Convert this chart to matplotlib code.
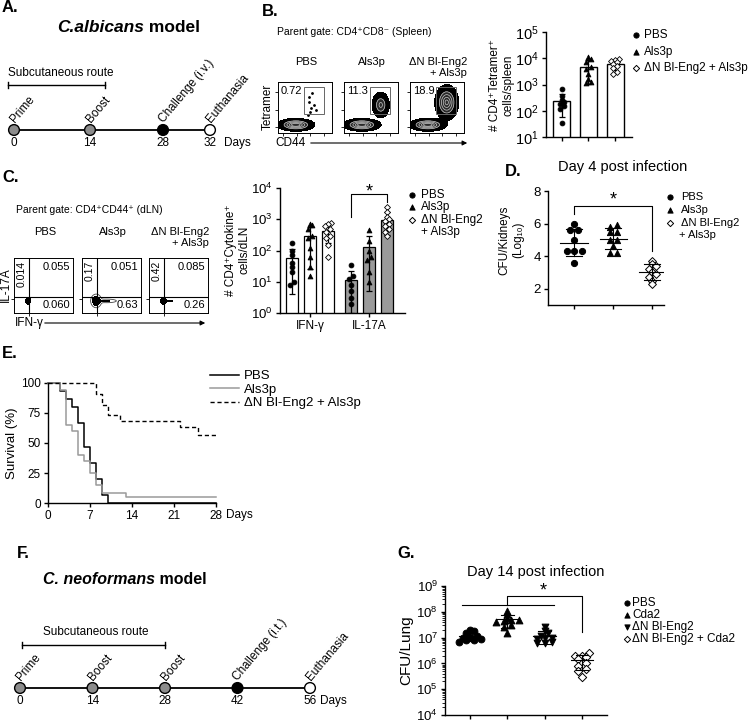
import numpy as np
import matplotlib.pyplot as plt
from matplotlib.patches import Rectangle
from matplotlib.ticker import LogLocator, NullFormatter

plt.rcParams['font.family'] = ['Liberation Sans', 'DejaVu Sans']
plt.rcParams['axes.linewidth'] = 1.0
plt.rcParams['axes.facecolor'] = 'none'
plt.rcParams['xtick.major.width'] = 1.0
plt.rcParams['ytick.major.width'] = 1.0

# ---------------- data ----------------
a_days = [0, 14, 28, 32]
a_events = ["Prime", "Boost", "Challenge (i.v.)", "Euthanasia"]
a_colors = ["#8c8c8c", "#8c8c8c", "k", "w"]
f_days = [0, 14, 28, 42, 56]
f_events = ["Prime", "Boost", "Boost", "Challenge (i.t.)", "Euthanasia"]
f_colors = ["#8c8c8c", "#8c8c8c", "#8c8c8c", "k", "w"]

b_flow_titles = ["PBS", "Als3p", "ΔN Bl-Eng2\n+ Als3p"]
b_flow_pct = ["0.72", "11.3", "18.9"]
b_flow_gated = [0.0, 0.55, 0.9]
b_pbs_gate_x = [0.55, 0.6, 0.62, 0.58, 0.66, 0.57, 0.7, 0.63]
b_pbs_gate_y = [0.35, 0.42, 0.5, 0.6, 0.55, 0.7, 0.45, 0.78]

b_groups = ["PBS", "Als3p", "ΔN Bl-Eng2 + Als3p"]
b_pbs = [650, 350, 260, 220, 180, 150, 120, 35]
b_als3p = [11000, 9000, 7000, 4500, 3800, 2500, 1600, 1300, 1100]
b_dn = [9500, 8500, 8000, 7000, 6000, 5000, 4200, 3000, 2600]

c_flow_titles = ["PBS", "Als3p", "ΔN Bl-Eng2\n+ Als3p"]
c_flow_ul = ["0.014", "0.17", "0.42"]
c_flow_ur = ["0.055", "0.051", "0.085"]
c_flow_lr = ["0.060", "0.63", "0.26"]

c_cyto = ["IFN-γ", "IL-17A"]
c_ifn = [[170, 100, 70, 40, 30, 20, 10, 8],
         [700, 650, 500, 300, 250, 120, 60, 30, 15],
         [750, 700, 600, 500, 400, 300, 250, 150, 60]]
c_il17 = [[35, 15, 12, 8, 5, 3, 2],
          [450, 200, 100, 60, 50, 20, 10],
          [2500, 1700, 1200, 1000, 900, 700, 600, 500, 400, 300]]

d_pbs = [6.0, 5.6, 5.6, 5.0, 4.3, 4.3, 4.3, 3.6]
d_als = [5.9, 5.8, 5.5, 5.5, 5.0, 5.0, 4.6, 4.2, 4.2]
d_dn = [3.7, 3.5, 3.4, 3.2, 3.0, 2.9, 2.7, 2.5, 2.3]

e_labels = ["PBS", "Als3p", "ΔN Bl-Eng2 + Als3p"]
e_pbs_days = [0, 2, 3, 4, 5, 6, 7, 8, 9, 10]
e_pbs_surv = [100, 93, 87, 80, 67, 47, 33, 20, 7, 0]
e_als_days = [0, 2, 3, 4, 5, 6, 7, 8, 9, 13]
e_als_surv = [100, 94, 65, 60, 40, 35, 25, 15, 8, 5]
e_dn_days = [0, 8, 9, 10, 12, 22, 25]
e_dn_surv = [100, 91, 82, 73, 68, 63, 57]

g_groups = ["PBS", "Cda2", "ΔN Bl-Eng2", "ΔN Bl-Eng2 + Cda2"]
g_pbs = [2.0e7, 1.8e7, 1.5e7, 1.2e7, 1.1e7, 1.0e7, 9e6, 8e6, 8e6, 7e6]
g_cda2 = [1.1e8, 8e7, 6e7, 5e7, 5e7, 4.5e7, 4e7, 3e7, 2.5e7, 1.5e7]
g_dn = [2.5e7, 1.8e7, 1.5e7, 1.2e7, 1.0e7, 1.0e7, 9e6, 7e6, 6e6, 6e6]
g_dncda2 = [2.5e6, 2.0e6, 2.0e6, 1.8e6, 1.5e6, 1.0e6, 8e5, 6e5, 5e5, 3e5]

# ---------------- layout helpers ----------------
W, H = 750, 726
fig = plt.figure(figsize=(W / 100, H / 100), dpi=100)
bg = fig.add_axes([0, 0, 1, 1])
bg.set_xlim(0, W)
bg.set_ylim(H, 0)
bg.axis("off")


def px_axes(x0, y0, x1, y1):
    return fig.add_axes([x0 / W, 1 - y1 / H, (x1 - x0) / W, (y1 - y0) / H])


def letter(x, y, s):
    bg.text(x, y, s, fontsize=12, fontweight="bold", ha="left", va="center")


def swarm(vals, center, step, tol, log=False):
    v = np.log10(vals) if log else np.asarray(vals, float)
    xs = np.zeros(len(v))
    groups = []
    for idx in np.argsort(v):
        if groups and abs(v[idx] - v[groups[-1][0]]) < tol:
            groups[-1].append(idx)
        else:
            groups.append([idx])
    for g in groups:
        for k, idx in enumerate(g):
            xs[idx] = center + (k - (len(g) - 1) / 2) * step
    return xs


def style_axes(ax, fs=9.5):
    for s in ["top", "right"]:
        ax.spines[s].set_visible(False)
    ax.tick_params(direction="out", length=3, labelsize=fs, pad=2)


def log_decades(ax, lo, hi):
    ax.set_yscale("log")
    ax.set_ylim(10 ** lo, 10 ** hi)
    ax.set_yticks([10 ** k for k in range(lo, hi + 1)])
    ax.yaxis.set_minor_locator(LogLocator(subs=[]))


def legend_rows(x, ys, markers, labels, fs=8.5, gap=8):
    for y, m, lab in zip(ys, markers, labels):
        fc = "w" if m == "D" else "k"
        bg.scatter([x], [y], marker=m, s=14 if m != "D" else 10, facecolor=fc,
                   edgecolor="k", linewidths=0.7, zorder=5)
        bg.text(x + gap, y, lab, fontsize=fs, va="center", ha="left")


def timeline(xs, y, days, events, colors, days_x):
    bg.plot([xs[0], xs[-1]], [y, y], color="k", lw=1.3, zorder=2)
    bg.scatter(xs, [y] * len(xs), s=60, c=colors, edgecolors="k", linewidths=1, zorder=3)
    for x, d, ev in zip(xs, days, events):
        bg.text(x + 3, y - 5, ev, rotation=50, rotation_mode="anchor",
                ha="left", va="bottom", fontsize=8.5)
        bg.text(x, y + 7, str(d), ha="center", va="top", fontsize=8.5)
    bg.text(days_x, y + 7, "Days", ha="left", va="top", fontsize=8.5)


def route_bar(x0, x1, y, tx, ty):
    bg.plot([x0, x1], [y, y], color="k", lw=1)
    bg.plot([x0, x0], [y - 3, y + 3], color="k", lw=1)
    bg.plot([x1, x1], [y - 3, y + 3], color="k", lw=1)
    bg.text(tx, ty, "Subcutaneous route", fontsize=8.5, ha="left", va="center")


def mean_sd(ax, x, vals, w=0.32, cap=0.16, lw=1.0):
    m, s = np.mean(vals), np.std(vals, ddof=1)
    lo = max(m - s, min(vals) * 0.5)
    ax.plot([x - w, x + w], [m, m], color="k", lw=lw, zorder=4)
    ax.plot([x, x], [lo, m + s], color="k", lw=lw, zorder=4)
    ax.plot([x - cap, x + cap], [lo, lo], color="k", lw=lw, zorder=4)
    ax.plot([x - cap, x + cap], [m + s, m + s], color="k", lw=lw, zorder=4)


def flow_title(xc, y_first, s):
    bg.text(xc, y_first - 6, s, fontsize=8, ha="center", va="top",
            multialignment="right", linespacing=1.15)


# ---------------- A ----------------
letter(2, 8, "A.")
t = bg.text(57, 28, "C.albicans", fontsize=12.5, fontweight="bold", style="italic", va="center")
bg.annotate(" model", xy=(1, 0.5), xycoords=t, fontsize=12.5, fontweight="bold", va="center")
route_bar(8, 105, 85, 8, 73)
timeline([14, 90, 163, 210], 130, a_days, a_events, a_colors, 224)

# ---------------- B flow ----------------
letter(262, 12, "B.")
bg.text(277, 32, "Parent gate: CD4⁺CD8⁻ (Spleen)", fontsize=7.5, va="center")
gx, gy = np.meshgrid(np.linspace(0, 1, 150), np.linspace(0, 1, 150))


def blob(cx, cy, sx, sy, w):
    return w * np.exp(-((gx - cx) / sx) ** 2 / 2 - ((gy - cy) / sy) ** 2 / 2)


bx = [278, 344, 410]
for i in range(3):
    ax = px_axes(bx[i], 82, bx[i] + 54, 133)
    z = blob(0.33, 0.16, 0.14, 0.05, 1.0)
    if b_flow_gated[i] > 0:
        z = z + blob(0.68, 0.5 + 0.05 * i, 0.05 + 0.02 * i, 0.08 + 0.03 * i, b_flow_gated[i])
    ax.contourf(gx, gy, z, levels=[0.04, 0.3, 5], colors=["k", "#2a2a2a"])
    ax.contour(gx, gy, z, levels=[0.3, 0.5, 0.7, 0.85], colors="#c8c8c8", linewidths=0.5)
    if i == 0:
        ax.scatter(b_pbs_gate_x, b_pbs_gate_y, s=1, color="k")
    ax.add_patch(Rectangle((0.48, 0.38), 0.38, 0.52, fill=False, lw=0.7, ec="#666666"))
    ax.text(0.05, 0.93, b_flow_pct[i], fontsize=8, va="top", ha="left", transform=ax.transAxes)
    ax.set_xlim(0, 1)
    ax.set_ylim(0, 1)
    ax.set_xticks([0.1, 0.35, 0.6, 0.85])
    ax.set_yticks([0.12, 0.45, 0.8])
    ax.tick_params(length=2, width=0.6, labelbottom=False, labelleft=False)
    for s in ax.spines.values():
        s.set_linewidth(0.7)
    flow_title(bx[i] + 28, 63, b_flow_titles[i])
bg.text(268, 107, "Tetramer", rotation=90, fontsize=8.5, ha="center", va="center")
bg.text(275, 143, "CD44", fontsize=8.5, ha="left", va="center")
bg.annotate("", xy=(470, 143), xytext=(308, 143),
            arrowprops=dict(arrowstyle="-|>", lw=0.8, color="k", mutation_scale=7))

# ---------------- B chart ----------------
ax = px_axes(546, 32, 632, 137)
style_axes(ax, fs=10.5)
log_decades(ax, 1, 5)
ax.set_xlim(-0.6, 2.64)
bvals = [b_pbs, b_als3p, b_dn]
bmark = ["o", "^", "D"]
for i, vals in enumerate(bvals):
    m, s = np.mean(vals), np.std(vals, ddof=1)
    ax.bar(i, m, width=0.64, color="w", edgecolor="k", lw=1, zorder=1)
    ax.errorbar(i, m, yerr=[[min(s, m - min(vals) * 0.6)], [s]], color="k", capsize=2.5,
                lw=0.9, capthick=0.9, zorder=3)
    xs = swarm(vals, i, 0.16, 0.12, log=True)
    fc = "w" if bmark[i] == "D" else "k"
    ax.scatter(xs, vals, marker=bmark[i], s=9 if bmark[i] == "D" else 12,
               facecolor=fc, edgecolor="k", linewidths=0.6, zorder=4)
ax.set_xticks([0, 1, 2])
ax.set_xticklabels([])
bg.text(502, 85, "# CD4⁺Tetramer⁺\ncells/spleen", rotation=90, fontsize=8.5,
        ha="center", va="center", multialignment="center")
legend_rows(636, [35, 52, 68], bmark, b_groups, fs=8.5, gap=8)

# ---------------- C flow ----------------
letter(2, 178, "C.")
bg.text(16, 210, "Parent gate: CD4⁺CD44⁺ (dLN)", fontsize=7.5, va="center")
cx = [14, 82, 149]
for i in range(3):
    ax = px_axes(cx[i], 258, cx[i] + 59, 313)
    z = blob(0.24, 0.22, 0.03, 0.045, 1.0)
    if i == 1:
        z = blob(0.24, 0.22, 0.045, 0.06, 1.0) + blob(0.42, 0.22, 0.1, 0.02, 0.45)
    if i == 2:
        z = z + blob(0.36, 0.22, 0.07, 0.02, 0.5)
    ax.contourf(gx, gy, z, levels=[0.4, 5], colors=["k"])
    if i == 1:
        ax.contour(gx, gy, z, levels=[0.12], colors="#444444", linewidths=0.6)
    ax.axvline(0.25, color="k", lw=0.8)
    ax.axhline(0.3, color="k", lw=0.8)
    ax.text(0.13, 0.95, c_flow_ul[i], rotation=90, fontsize=7.5, ha="center", va="top",
            transform=ax.transAxes)
    ax.text(0.95, 0.93, c_flow_ur[i], fontsize=8, ha="right", va="top", transform=ax.transAxes)
    ax.text(0.95, 0.05, c_flow_lr[i], fontsize=8, ha="right", va="bottom", transform=ax.transAxes)
    ax.set_xlim(0, 1)
    ax.set_ylim(0, 1)
    ax.set_xticks([0.25])
    ax.set_yticks([0.25])
    ax.tick_params(length=2, width=0.6, labelbottom=False, labelleft=False)
    for s in ax.spines.values():
        s.set_linewidth(0.7)
    flow_title(cx[i] + 31, 233, c_flow_titles[i])
bg.text(6, 285, "IL-17A", rotation=90, fontsize=8.5, ha="center", va="center")
bg.text(15, 323, "IFN-γ", fontsize=8.5, ha="left", va="center")
bg.annotate("", xy=(208, 323), xytext=(42, 323),
            arrowprops=dict(arrowstyle="-|>", lw=0.8, color="k", mutation_scale=7))

# ---------------- C chart ----------------
ax = px_axes(280, 188, 405, 313)
style_axes(ax, fs=9.5)
log_decades(ax, 0, 4)
ax.set_xlim(-0.67, 6.28)
cpos = [[0, 1, 2], [3.28, 4.28, 5.28]]
for gi, (grp, fill) in enumerate(zip([c_ifn, c_il17], ["w", "#9a9a9a"])):
    for j, vals in enumerate(grp):
        x = cpos[gi][j]
        m, s = np.mean(vals), np.std(vals, ddof=1)
        ax.bar(x, m, width=0.62, color=fill, edgecolor="k", lw=0.9, zorder=1)
        ax.errorbar(x, m, yerr=[[min(s, m - min(vals) * 0.5)], [s]], color="k", capsize=2.5,
                    lw=0.9, capthick=0.9, zorder=3)
        xs = swarm(vals, x, 0.18, 0.12, log=True)
        fc = "w" if bmark[j] == "D" else "k"
        ax.scatter(xs, vals, marker=bmark[j], s=9 if bmark[j] == "D" else 12,
                   facecolor=fc, edgecolor="k", linewidths=0.6, zorder=4)
ax.set_xticks([1, 4.28])
ax.set_xticklabels(c_cyto, fontsize=8.5)
ax.plot([3.28, 3.28, 5.28, 5.28], [1.2e3, 6.3e3, 6.3e3, 3.5e3], color="k", lw=0.8, clip_on=False)
ax.text(4.28, 7.5e3, "*", fontsize=13, ha="center", va="center")
bg.text(238, 250, "# CD4⁺Cytokine⁺\ncells/dLN", rotation=90, fontsize=8.5,
        ha="center", va="center", multialignment="center")
legend_rows(412, [195, 207, 220], bmark, ["PBS", "Als3p", "ΔN Bl-Eng2"], fs=8.5, gap=9)
bg.text(421, 232, "+ Als3p", fontsize=8.5, va="center")

# ---------------- D ----------------
letter(505, 172, "D.")
bg.text(623, 167, "Day 4 post infection", fontsize=10.5, ha="center", va="center")
ax = px_axes(548, 191, 664, 305)
style_axes(ax, fs=9.5)
ax.set_ylim(1, 8)
ax.set_xlim(-0.67, 2.3)
ax.set_yticks([2, 4, 6, 8])
ax.set_xticks([0, 1, 2])
ax.set_xticklabels([])
for i, vals in enumerate([d_pbs, d_als, d_dn]):
    xs = swarm(vals, i, 0.19, 0.2)
    fc = "w" if bmark[i] == "D" else "k"
    ax.scatter(xs, vals, marker=bmark[i], s=16 if bmark[i] == "D" else 20,
               facecolor=fc, edgecolor="k", linewidths=0.7, zorder=3)
    mean_sd(ax, i, vals, w=0.35, cap=0.2, lw=0.8)
ax.plot([0, 0, 2, 2], [6.6, 7.1, 7.1, 4.3], color="k", lw=0.8, clip_on=False)
ax.text(1, 7.45, "*", fontsize=13, ha="center", va="center")
bg.text(511, 240, "CFU/Kidneys\n(Log₁₀)", rotation=90, fontsize=8.5,
        ha="center", va="center", multialignment="center")
legend_rows(670, [197, 210, 223], bmark, ["PBS", "Als3p", "ΔN Bl-Eng2"], fs=8, gap=11)
bg.text(679, 235, "+ Als3p", fontsize=8, va="center")

# ---------------- E ----------------
letter(2, 353, "E.")
ax = px_axes(48, 383, 216, 503)
style_axes(ax, fs=8.5)
ax.step(e_pbs_days + [28], e_pbs_surv + [e_pbs_surv[-1]], where="post", color="k", lw=1.1,
        label=e_labels[0], clip_on=False)
ax.step(e_als_days + [28], e_als_surv + [e_als_surv[-1]], where="post", color="#9a9a9a", lw=1.1,
        label=e_labels[1], clip_on=False)
ax.step(e_dn_days + [28], e_dn_surv + [e_dn_surv[-1]], where="post", color="k", lw=1.0,
        ls=(0, (3, 2)), label=e_labels[2], clip_on=False)
ax.set_xlim(0, 28)
ax.set_ylim(0, 100)
ax.set_xticks([0, 7, 14, 21, 28])
ax.set_yticks([0, 25, 50, 75, 100])
ax.set_ylabel("Survival (%)", fontsize=9.5, labelpad=2)
bg.text(226, 515, "Days", fontsize=8.5, ha="left", va="center")
h, l = ax.get_legend_handles_labels()
fig.legend(h, l, loc="upper left", bbox_to_anchor=(210 / W, 1 - 370 / H), frameon=False,
           fontsize=9.5, handlelength=2.2, handletextpad=0.4, labelspacing=0.1,
           borderpad=0, borderaxespad=0)

# ---------------- F ----------------
letter(17, 553, "F.")
t = bg.text(43, 580, "C. neoformans", fontsize=11.5, fontweight="bold", style="italic", va="center")
bg.annotate(" model", xy=(1, 0.5), xycoords=t, fontsize=11.5, fontweight="bold", va="center")
route_bar(22, 165, 645, 43, 632)
f_x = [20 + d * 290 / 56 for d in f_days]
timeline(f_x, 688, f_days, f_events, f_colors, 320)

# ---------------- G ----------------
letter(397, 553, "G.")
bg.text(536, 572, "Day 14 post infection", fontsize=10.5, ha="center", va="center")
ax = px_axes(445, 586, 607, 715)
style_axes(ax, fs=9.5)
ax.set_yscale("log")
ax.set_ylim(1e4, 1e9)
ax.set_xlim(-0.67, 3.67)
ax.yaxis.set_major_locator(LogLocator(base=10, numticks=10))
ax.yaxis.set_minor_locator(LogLocator(base=10, subs=np.arange(2, 10), numticks=20))
ax.yaxis.set_minor_formatter(NullFormatter())
ax.tick_params(which="minor", length=2, width=0.6)
ax.set_xticks([0, 1, 2, 3])
ax.set_xticklabels([])
gmark = ["o", "^", "v", "D"]
for i, vals in enumerate([g_pbs, g_cda2, g_dn, g_dncda2]):
    xs = swarm(vals, i, 0.2, 0.12, log=True)
    fc = "w" if gmark[i] == "D" else "k"
    ax.scatter(xs, vals, marker=gmark[i], s=18 if gmark[i] == "D" else 24,
               facecolor=fc, edgecolor="k", linewidths=0.7, zorder=3)
    mean_sd(ax, i, vals, w=0.3, cap=0.17, lw=0.8)
ax.plot([-0.21, 2.25], [1.9e8, 1.9e8], color="k", lw=0.8, clip_on=False)
ax.plot([1, 1, 3, 3], [1.9e8, 4.2e8, 4.2e8, 1.6e7], color="k", lw=0.8, clip_on=False)
ax.text(1.96, 6.5e8, "*", fontsize=13, ha="center", va="center")
ax.set_ylabel("CFU/Lung", fontsize=11, labelpad=2)
legend_rows(627, [603, 615, 627, 639], gmark, g_groups, fs=8.5, gap=5)

fig.savefig("out.png", dpi=100)
